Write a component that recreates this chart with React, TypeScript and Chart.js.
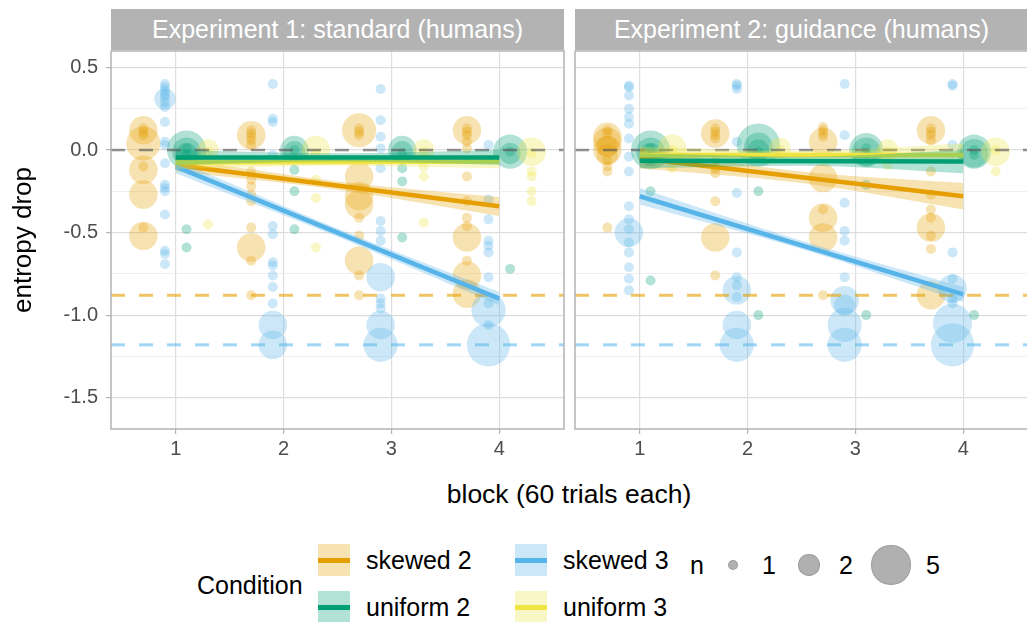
import React, { useEffect, useRef } from "react";
import { Chart, registerables } from "chart.js";
Chart.register(...registerables);

const FONT = "'Liberation Sans', Arial, Helvetica, sans-serif";

// ---------- categories / labels ----------
const conditions = ["skewed 2", "skewed 3", "uniform 2", "uniform 3"];
const conditionColors = ["#E69F00", "#56B4E9", "#009E73", "#F0E442"];
const dodgeOffsets = [-0.3, -0.1, 0.1, 0.3];
const blocks = [1, 2, 3, 4];
const yMajorTicks = [0.5, 0, -0.5, -1, -1.5];
const yMinorTicks = [0.25, -0.25, -0.75, -1.25];
const panelTitles = ["Experiment 1: standard (humans)", "Experiment 2: guidance (humans)"];
const refValues = [0, -0.88, -1.18];
const sizeLegendValues = [1, 2, 5];
const fitBlocks = [1, 2.5, 4];

// ---------- points: [block, entropy drop, n] ----------
type Pt = [number, number, number];

const exp1Skewed2: Pt[] = [
  [1, 0.12, 3], [1, 0.13, 1], [1, 0.11, 1], [1, 0.09, 1], [1, 0.04, 4], [1, -0.1, 1], [1, -0.12, 3],
  [1, -0.27, 3], [1, -0.47, 1], [1, -0.52, 3],
  [2, 0.09, 3], [2, 0.12, 1], [2, 0.1, 1], [2, 0.08, 1], [2, 0.06, 1], [2, 0.03, 1], [2, -0.13, 1],
  [2, -0.18, 1], [2, -0.22, 1], [2, -0.27, 1], [2, -0.31, 1], [2, -0.47, 1], [2, -0.59, 3], [2, -0.67, 1], [2, -0.88, 1],
  [3, 0.12, 4], [3, 0.13, 1], [3, 0.11, 1], [3, 0.09, 1], [3, -0.16, 3], [3, -0.28, 3], [3, -0.33, 3],
  [3, -0.41, 1], [3, -0.52, 1], [3, -0.67, 3], [3, -0.76, 1], [3, -0.88, 1],
  [4, 0.12, 3], [4, 0.13, 1], [4, 0.11, 1], [4, 0.09, 1], [4, 0.05, 1], [4, 0.01, 1], [4, -0.16, 1],
  [4, -0.31, 1], [4, -0.41, 1], [4, -0.46, 1], [4, -0.53, 3], [4, -0.67, 1], [4, -0.76, 3], [4, -0.87, 3],
];
const exp1Skewed3: Pt[] = [
  [1, 0.4, 1], [1, 0.38, 1], [1, 0.36, 1], [1, 0.34, 1], [1, 0.32, 1], [1, 0.29, 1], [1, 0.26, 1], [1, 0.31, 2],
  [1, 0.17, 1], [1, 0.05, 1], [1, 0.03, 1], [1, -0.08, 1], [1, -0.21, 1], [1, -0.23, 1], [1, -0.25, 1],
  [1, -0.39, 1], [1, -0.61, 1], [1, -0.63, 1], [1, -0.69, 1],
  [2, 0.4, 1], [2, 0.19, 1], [2, 0.17, 1], [2, -0.03, 1], [2, -0.46, 1], [2, -0.51, 1], [2, -0.68, 1],
  [2, -0.7, 1], [2, -0.76, 1], [2, -0.83, 1], [2, -0.93, 1], [2, -1.06, 3], [2, -1.18, 3],
  [3, 0.37, 1], [3, 0.18, 1], [3, 0.08, 1], [3, 0.01, 1], [3, -0.11, 1], [3, -0.43, 1], [3, -0.49, 1],
  [3, -0.55, 1], [3, -0.77, 3], [3, -0.9, 1], [3, -0.93, 1], [3, -0.96, 1], [3, -1.06, 3], [3, -1.18, 4],
  [4, 0.03, 1], [4, -0.3, 1], [4, -0.42, 1], [4, -0.55, 1], [4, -0.58, 1], [4, -0.62, 1], [4, -0.77, 1],
  [4, -0.93, 1], [4, -0.97, 4], [4, -1.06, 1], [4, -1.18, 6],
];
const exp1Uniform2: Pt[] = [
  [1, 0.0, 5], [1, -0.01, 3], [1, -0.02, 2], [1, -0.03, 1], [1, 0.01, 1], [1, -0.48, 1], [1, -0.59, 1],
  [2, 0.0, 3], [2, -0.01, 2], [2, 0.0, 1], [2, -0.12, 1], [2, -0.25, 1], [2, -0.48, 1],
  [3, 0.0, 3], [3, -0.01, 2], [3, -0.02, 1], [3, -0.11, 1], [3, -0.19, 1], [3, -0.53, 1],
  [4, -0.01, 4], [4, -0.02, 2], [4, -0.01, 1], [4, -0.72, 1],
];
const exp1Uniform3: Pt[] = [
  [1, 0.0, 2], [1, -0.01, 1], [1, -0.45, 1],
  [2, 0.0, 3], [2, -0.02, 1], [2, -0.18, 1], [2, -0.29, 1], [2, -0.59, 1],
  [3, 0.0, 2], [3, -0.01, 1], [3, -0.1, 1], [3, -0.16, 1], [3, -0.44, 1],
  [4, -0.01, 3], [4, -0.02, 1], [4, -0.13, 1], [4, -0.16, 1], [4, -0.25, 1], [4, -0.31, 1],
];

const exp2Skewed2: Pt[] = [
  [1, 0.08, 3], [1, 0.05, 3], [1, 0.02, 2], [1, 0.0, 3], [1, -0.03, 2], [1, -0.06, 1], [1, 0.1, 1],
  [1, 0.12, 1], [1, -0.1, 1], [1, -0.13, 1], [1, -0.47, 1],
  [2, 0.1, 3], [2, 0.13, 1], [2, 0.11, 1], [2, 0.09, 1], [2, 0.07, 1], [2, -0.07, 1], [2, -0.11, 1],
  [2, -0.14, 1], [2, -0.31, 1], [2, -0.53, 3], [2, -0.76, 1],
  [3, 0.14, 1], [3, 0.12, 1], [3, 0.1, 1], [3, 0.08, 1], [3, 0.05, 3], [3, -0.17, 3], [3, -0.36, 1],
  [3, -0.41, 3], [3, -0.53, 3], [3, -0.88, 1],
  [4, 0.12, 3], [4, 0.13, 1], [4, 0.11, 1], [4, 0.09, 1], [4, 0.06, 1], [4, -0.13, 1], [4, -0.27, 1],
  [4, -0.36, 1], [4, -0.41, 1], [4, -0.47, 3], [4, -0.52, 1], [4, -0.6, 1], [4, -0.88, 3],
];
const exp2Skewed3: Pt[] = [
  [1, 0.39, 1], [1, 0.38, 1], [1, 0.33, 1], [1, 0.25, 1], [1, 0.2, 1], [1, 0.16, 1], [1, 0.07, 1],
  [1, -0.04, 1], [1, -0.13, 1], [1, -0.34, 1], [1, -0.42, 1], [1, -0.48, 1], [1, -0.5, 3], [1, -0.56, 1],
  [1, -0.62, 1], [1, -0.71, 1], [1, -0.78, 1], [1, -0.85, 1],
  [2, 0.4, 1], [2, 0.39, 1], [2, 0.37, 1], [2, 0.05, 1], [2, -0.26, 1], [2, -0.62, 1], [2, -0.77, 1],
  [2, -0.82, 1], [2, -0.85, 3], [2, -0.89, 1], [2, -1.06, 3], [2, -1.18, 4],
  [3, 0.4, 1], [3, 0.09, 1], [3, -0.32, 1], [3, -0.49, 1], [3, -0.55, 1], [3, -0.77, 1], [3, -0.91, 3],
  [3, -0.94, 2], [3, -1.06, 4], [3, -1.18, 4],
  [4, 0.4, 1], [4, 0.39, 1], [4, 0.03, 1], [4, -0.62, 1], [4, -0.78, 1], [4, -0.84, 3], [4, -0.9, 1],
  [4, -0.93, 1], [4, -1.05, 5], [4, -1.18, 6],
];
const exp2Uniform2: Pt[] = [
  [1, 0.0, 5], [1, -0.01, 3], [1, -0.02, 2], [1, 0.01, 1], [1, -0.04, 1], [1, -0.25, 1], [1, -0.79, 1],
  [2, 0.03, 6], [2, 0.02, 3], [2, 0.0, 2], [2, -0.01, 1], [2, -0.25, 1], [2, -1.0, 1],
  [3, 0.0, 4], [3, -0.01, 3], [3, -0.02, 1], [3, 0.01, 1], [3, -0.21, 1], [3, -1.0, 1],
  [4, -0.01, 4], [4, -0.02, 3], [4, -0.03, 1], [4, 0.0, 1], [4, -1.0, 1],
];
const exp2Uniform3: Pt[] = [
  [1, 0.01, 3], [1, 0.0, 1], [1, -0.11, 1],
  [2, 0.01, 2], [2, 0.0, 1],
  [3, 0.0, 2], [3, -0.01, 1], [3, -0.09, 1],
  [4, -0.01, 3], [4, 0.0, 1], [4, -0.13, 1],
];

// ---------- linear fits (line + confidence band) at fitBlocks ----------
const exp1Skewed2Fit = [-0.09, -0.215, -0.34];
const exp1Skewed2Lo = [-0.13, -0.24, -0.4];
const exp1Skewed2Hi = [-0.05, -0.19, -0.285];
const exp1Skewed3Fit = [-0.1, -0.5, -0.9];
const exp1Skewed3Lo = [-0.14, -0.525, -0.94];
const exp1Skewed3Hi = [-0.06, -0.475, -0.86];
const exp1Uniform2Fit = [-0.045, -0.045, -0.045];
const exp1Uniform2Lo = [-0.09, -0.07, -0.09];
const exp1Uniform2Hi = [0.0, -0.02, 0.0];
const exp1Uniform3Fit = [-0.075, -0.072, -0.07];
const exp1Uniform3Lo = [-0.115, -0.095, -0.11];
const exp1Uniform3Hi = [-0.035, -0.05, -0.03];

const exp2Skewed2Fit = [-0.05, -0.165, -0.28];
const exp2Skewed2Lo = [-0.11, -0.2, -0.36];
const exp2Skewed2Hi = [0.01, -0.13, -0.2];
const exp2Skewed3Fit = [-0.28, -0.575, -0.875];
const exp2Skewed3Lo = [-0.33, -0.6, -0.92];
const exp2Skewed3Hi = [-0.23, -0.55, -0.83];
const exp2Uniform2Fit = [-0.065, -0.068, -0.07];
const exp2Uniform2Lo = [-0.11, -0.095, -0.14];
const exp2Uniform2Hi = [-0.02, -0.04, 0.0];
const exp2Uniform3Fit = [-0.03, -0.03, -0.03];
const exp2Uniform3Lo = [-0.075, -0.055, -0.07];
const exp2Uniform3Hi = [0.02, -0.005, 0.04];

// ---------- geometry / style ----------
const X_MIN = 0.4;
const X_MAX = 4.6;
const Y_MIN = -1.69;
const Y_MAX = 0.6;
const refColors = ["rgba(90,90,90,0.65)", "rgba(230,159,0,0.6)", "rgba(86,180,233,0.55)"];
const refWidths = [2.5, 3, 3];
const smoothPaintOrder = [0, 1, 3, 2];

function rgba(hex: string, a: number) {
  const r = parseInt(hex.slice(1, 3), 16);
  const g = parseInt(hex.slice(3, 5), 16);
  const b = parseInt(hex.slice(5, 7), 16);
  return `rgba(${r},${g},${b},${a})`;
}
function radiusFor(n: number) {
  return Math.sqrt(25 + 89 * (n - 1));
}

type FitSet = { fit: number[]; lo: number[]; hi: number[] };

function panelDatasets(pointSets: Pt[][], fitSets: FitSet[]) {
  const paint: any[] = [];
  pointSets.forEach((pts, ci) => {
    paint.push({
      type: "scatter",
      label: conditions[ci],
      data: pts.map(([b, v, n]) => ({ x: b + dodgeOffsets[ci], y: v, n })),
      pointRadius: (ctx: any) => radiusFor(ctx.raw ? ctx.raw.n : 1),
      pointHoverRadius: (ctx: any) => radiusFor(ctx.raw ? ctx.raw.n : 1),
      pointBackgroundColor: rgba(conditionColors[ci], 0.3),
      pointBorderWidth: 0,
      showLine: false,
      clip: 0,
    });
  });
  refValues.forEach((v, i) => {
    paint.push({
      type: "line",
      data: [{ x: X_MIN, y: v }, { x: X_MAX, y: v }],
      borderColor: refColors[i],
      borderWidth: refWidths[i],
      borderDash: [14, 14],
      pointRadius: 0,
      fill: false,
      clip: 0,
    });
  });
  smoothPaintOrder.forEach((ci) => {
    const f = fitSets[ci];
    paint.push({
      type: "line",
      data: fitBlocks.map((b, i) => ({ x: b, y: f.lo[i] })),
      borderWidth: 0,
      pointRadius: 0,
      fill: false,
      cubicInterpolationMode: "monotone",
      clip: 0,
    });
    paint.push({
      type: "line",
      data: fitBlocks.map((b, i) => ({ x: b, y: f.hi[i] })),
      borderWidth: 0,
      pointRadius: 0,
      fill: "-1",
      backgroundColor: rgba(conditionColors[ci], 0.3),
      cubicInterpolationMode: "monotone",
      clip: 0,
    });
    paint.push({
      type: "line",
      data: [
        { x: fitBlocks[0], y: f.fit[0] },
        { x: fitBlocks[2], y: f.fit[2] },
      ],
      borderColor: conditionColors[ci],
      borderWidth: 4.5,
      pointRadius: 0,
      fill: false,
      clip: 0,
    });
  });
  const N = paint.length;
  return paint.map((d, i) => ({ ...d, order: N - i }));
}

const borderPlugin = {
  id: "panelBorder",
  afterDatasetsDraw(chart: any) {
    const { ctx, chartArea: a } = chart;
    ctx.save();
    ctx.strokeStyle = "#B3B3B3";
    ctx.lineWidth = 1.5;
    ctx.strokeRect(a.left, a.top, a.right - a.left, a.bottom - a.top);
    ctx.restore();
  },
};

const isMajor = (v: number) => yMajorTicks.some((t) => Math.abs(t - v) < 1e-9);

function makeConfig(pointSets: Pt[][], fitSets: FitSet[], showY: boolean) {
  return {
    type: "scatter",
    data: { datasets: panelDatasets(pointSets, fitSets) },
    plugins: [borderPlugin],
    options: {
      animation: false,
      responsive: false,
      events: [],
      layout: { autoPadding: false, padding: { top: 2, right: showY ? 2 : 0, left: showY ? 0 : 2, bottom: 0 } },
      plugins: { legend: { display: false }, tooltip: { enabled: false } },
      scales: {
        x: {
          type: "linear",
          min: X_MIN,
          max: X_MAX,
          afterBuildTicks: (s: any) => {
            s.ticks = blocks.map((v) => ({ value: v }));
          },
          afterFit: (s: any) => {
            s.height = 36;
            s.paddingLeft = 0;
            s.paddingRight = 0;
            s.paddingTop = 0;
            s.paddingBottom = 0;
          },
          border: { display: false },
          grid: { color: "#DEDEDE", lineWidth: 1.2, tickColor: "#B3B3B3", tickLength: 5, tickWidth: 1.2 },
          ticks: {
            color: "#4D4D4D",
            font: { family: FONT, size: 20 },
            padding: 3,
            maxRotation: 0,
            autoSkip: false,
            callback: (v: any) => String(v),
          },
        },
        y: {
          type: "linear",
          min: Y_MIN,
          max: Y_MAX,
          afterBuildTicks: (s: any) => {
            s.ticks = [...yMajorTicks, ...yMinorTicks].sort((a, b) => a - b).map((v) => ({ value: v }));
          },
          afterFit: (s: any) => {
            s.width = showY ? 111 : 0;
            s.paddingLeft = 0;
            s.paddingRight = 0;
            s.paddingTop = 0;
            s.paddingBottom = 0;
          },
          border: { display: false },
          grid: {
            color: (c: any) => (c.tick && isMajor(c.tick.value) ? "#DEDEDE" : "#EBEBEB"),
            lineWidth: (c: any) => (c.tick && isMajor(c.tick.value) ? 1.2 : 0.8),
            tickColor: (c: any) => (c.tick && isMajor(c.tick.value) ? "#B3B3B3" : "rgba(0,0,0,0)"),
            tickLength: 5,
            tickWidth: 1.2,
            drawTicks: showY,
          },
          ticks: {
            display: showY,
            color: "#4D4D4D",
            font: { family: FONT, size: 20 },
            padding: 8,
            autoSkip: false,
            callback: (v: any) => (isMajor(v) ? Number(v).toFixed(1) : ""),
          },
        },
      },
    },
  } as any;
}

const txt = (left: number, cy: number, size: number, content: string, extra: any = {}) => (
  <span
    style={{
      position: "absolute",
      left,
      top: cy,
      transform: "translateY(-50%)",
      fontSize: size,
      lineHeight: 1,
      whiteSpace: "nowrap",
      color: "#000",
      ...extra,
    }}
  >
    {content}
  </span>
);

export default function App() {
  const c1 = useRef<HTMLCanvasElement>(null);
  const c2 = useRef<HTMLCanvasElement>(null);

  useEffect(() => {
    const ch1 = new Chart(
      c1.current!,
      makeConfig(
        [exp1Skewed2, exp1Skewed3, exp1Uniform2, exp1Uniform3],
        [
          { fit: exp1Skewed2Fit, lo: exp1Skewed2Lo, hi: exp1Skewed2Hi },
          { fit: exp1Skewed3Fit, lo: exp1Skewed3Lo, hi: exp1Skewed3Hi },
          { fit: exp1Uniform2Fit, lo: exp1Uniform2Lo, hi: exp1Uniform2Hi },
          { fit: exp1Uniform3Fit, lo: exp1Uniform3Lo, hi: exp1Uniform3Hi },
        ],
        true
      )
    );
    const ch2 = new Chart(
      c2.current!,
      makeConfig(
        [exp2Skewed2, exp2Skewed3, exp2Uniform2, exp2Uniform3],
        [
          { fit: exp2Skewed2Fit, lo: exp2Skewed2Lo, hi: exp2Skewed2Hi },
          { fit: exp2Skewed3Fit, lo: exp2Skewed3Lo, hi: exp2Skewed3Hi },
          { fit: exp2Uniform2Fit, lo: exp2Uniform2Lo, hi: exp2Uniform2Hi },
          { fit: exp2Uniform3Fit, lo: exp2Uniform3Lo, hi: exp2Uniform3Hi },
        ],
        false
      )
    );
    return () => {
      ch1.destroy();
      ch2.destroy();
    };
  }, []);

  const stripStyle = (left: number): any => ({
    position: "absolute",
    left,
    top: 9,
    width: 453,
    height: 41,
    background: "#B3B3B3",
    color: "#fff",
    fontSize: 25,
    lineHeight: "41px",
    textAlign: "center",
    whiteSpace: "nowrap",
  });

  const keyBox = (left: number, top: number, ci: number) => (
    <div
      style={{
        position: "absolute",
        left,
        top,
        width: 32,
        height: 32,
        background: rgba(conditionColors[ci], 0.3),
      }}
    >
      <div
        style={{
          position: "absolute",
          left: 0,
          top: 14,
          width: 32,
          height: 4.5,
          background: conditionColors[ci],
        }}
      />
    </div>
  );

  const sizeCircleX = [733, 809, 891];
  const sizeLabelX = [762, 839, 926];

  return (
    <div
      style={{
        position: "absolute",
        left: 0,
        top: 0,
        width: 1027,
        height: 622,
        overflow: "hidden",
        background: "#fff",
        fontFamily: FONT,
      }}
    >
      <div style={stripStyle(111)}>{panelTitles[0]}</div>
      <div style={stripStyle(575)}>{panelTitles[1]}</div>
      <canvas ref={c1} width={566} height={416} style={{ position: "absolute", left: 0, top: 49 }} />
      <canvas ref={c2} width={455} height={416} style={{ position: "absolute", left: 573, top: 49 }} />

      <div
        style={{
          position: "absolute",
          left: 22,
          top: 240,
          transform: "translate(-50%, -50%) rotate(-90deg)",
          fontSize: 26,
          lineHeight: 1,
          whiteSpace: "nowrap",
        }}
      >
        entropy drop
      </div>
      <div
        style={{
          position: "absolute",
          left: 569,
          top: 494,
          transform: "translate(-50%, -50%)",
          fontSize: 26.5,
          lineHeight: 1,
          whiteSpace: "nowrap",
        }}
      >
        block (60 trials each)
      </div>

      {txt(197, 585, 25, "Condition")}
      {keyBox(318, 544, 0)}
      {keyBox(515, 544, 1)}
      {keyBox(318, 591, 2)}
      {keyBox(515, 591, 3)}
      {txt(366, 560, 25, conditions[0])}
      {txt(563, 560, 25, conditions[1])}
      {txt(366, 607, 25, conditions[2])}
      {txt(563, 607, 25, conditions[3])}

      {txt(690, 565, 25, "n")}
      {sizeLegendValues.map((n, i) => {
        const r = radiusFor(n);
        return (
          <div
            key={n}
            style={{
              position: "absolute",
              left: sizeCircleX[i] - r,
              top: 565 - r,
              width: 2 * r,
              height: 2 * r,
              borderRadius: "50%",
              background: "rgba(150,150,150,0.75)",
              boxSizing: "border-box",
              border: "1px solid rgba(120,120,120,0.35)",
            }}
          />
        );
      })}
      {sizeLegendValues.map((n, i) => (
        <React.Fragment key={"l" + n}>{txt(sizeLabelX[i], 565, 25, String(n))}</React.Fragment>
      ))}
    </div>
  );
}
